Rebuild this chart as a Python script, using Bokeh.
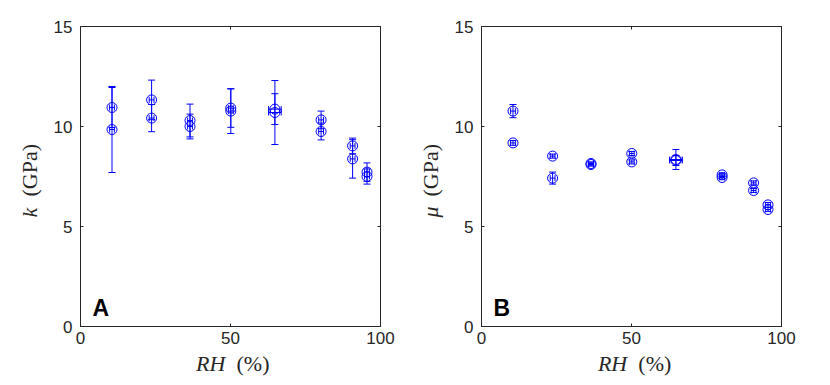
import numpy as np
from bokeh.plotting import figure
from bokeh.layouts import row, column
from bokeh.models import Range1d, LinearAxis, Label, FixedTicker
from bokeh.embed import file_html
from bokeh.resources import INLINE

# ---- data ----
rh = [10.5, 10.5, 23.7, 23.7, 36.5, 36.5, 50.1, 50.1, 64.8, 64.8, 80.2, 80.2, 90.7, 90.7, 95.5, 95.5]
rh_err = [0.8, 0.8, 0.8, 0.8, 0.8, 0.8, 0.8, 0.8, 2.1, 2.1, 0.8, 0.8, 0.8, 0.8, 0.8, 0.8]
k = [10.95, 9.85, 11.33, 10.42, 10.30, 10.00, 10.92, 10.77, 10.87, 10.70, 10.33, 9.75, 9.03, 8.38, 7.72, 7.50]
k_err = [1.00, 2.15, 0.99, 0.68, 0.82, 0.62, 0.96, 1.12, 0.77, 1.60, 0.44, 0.42, 0.39, 0.96, 0.46, 0.38]
mu = [10.77, 9.18, 8.52, 7.42, 8.15, 8.10, 8.65, 8.23, 8.35, 8.30, 7.58, 7.45, 7.18, 6.80, 6.08, 5.85]
mu_err = [0.33, 0.12, 0.10, 0.30, 0.08, 0.08, 0.10, 0.10, 0.50, 0.25, 0.08, 0.08, 0.10, 0.10, 0.12, 0.10]
x_ticks = [0, 50, 100]
y_ticks = [0, 5, 10, 15]
panel_letters = ["A", "B"]
y_symbols = ["k", "\u03bc"]
x_symbol = "RH"
unit_y = "(GPa)"
unit_x = "(%)"

AX = "#262626"
BLUE = "#0000FF"
SERIF = "Liberation Serif"
PLOT_H = 352
YL_W = 50


def tick_only_axis(ticks):
    return LinearAxis(ticker=FixedTicker(ticks=ticks), major_label_text_font_size="1px",
                      major_label_text_color=None, axis_line_color=None,
                      major_tick_in=3, major_tick_out=0, major_tick_line_color=AX,
                      minor_tick_line_color=None, major_label_standoff=0)


def make_panel(yv, ye, letter, border_left, border_right):
    p = figure(width=border_left + 300 + border_right, height=PLOT_H,
               output_backend="svg", toolbar_location=None, title=None,
               x_range=Range1d(0, 100), y_range=Range1d(0, 15),
               min_border_left=border_left, min_border_right=border_right,
               min_border_top=26, min_border_bottom=PLOT_H - 326)
    p.grid.visible = False
    p.outline_line_color = AX
    p.outline_line_width = 1
    p.xaxis.ticker = FixedTicker(ticks=x_ticks)
    p.yaxis.ticker = FixedTicker(ticks=y_ticks)
    for ax in p.axis:
        ax.axis_line_color = AX
        ax.major_tick_line_color = AX
        ax.major_tick_in = 3
        ax.major_tick_out = 0
        ax.minor_tick_line_color = None
        ax.major_label_text_font = "Liberation Sans"
        ax.major_label_text_font_size = "17px"
        ax.major_label_text_color = AX
    p.xaxis.major_label_standoff = 5
    p.yaxis.major_label_standoff = 8

    p.add_layout(tick_only_axis(y_ticks), "right")
    p.add_layout(tick_only_axis(x_ticks), "above")

    x = np.array(rh, dtype=float)
    xe = np.array(rh_err, dtype=float)
    y = np.array(yv, dtype=float)
    e = np.array(ye, dtype=float)

    # vertical error bars
    p.segment(x0=x, y0=y - e, x1=x, y1=y + e, line_color=BLUE, line_width=1)
    p.scatter(x=x, y=y + e, marker="dash", size=7, line_color=BLUE, line_width=1)
    p.scatter(x=x, y=y - e, marker="dash", size=7, line_color=BLUE, line_width=1)
    # horizontal error bars
    p.segment(x0=x - xe, y0=y, x1=x + xe, y1=y, line_color=BLUE, line_width=1)
    p.scatter(x=x - xe, y=y, marker="dash", angle=np.pi / 2, size=6, line_color=BLUE, line_width=1)
    p.scatter(x=x + xe, y=y, marker="dash", angle=np.pi / 2, size=6, line_color=BLUE, line_width=1)
    # markers
    p.scatter(x=x, y=y, marker="circle", size=10, fill_color=None, line_color=BLUE, line_width=1)

    # panel letter
    p.add_layout(Label(x=4, y=0.95, text=letter, text_font="Liberation Sans",
                       text_font_style="bold", text_font_size="23px", text_color="black",
                       text_baseline="alphabetic", text_align="left"))
    return p


def blank(w, h):
    f = figure(width=w, height=h, output_backend="svg", toolbar_location=None, title=None,
               x_range=Range1d(0, w), y_range=Range1d(0, h),
               x_axis_type=None, y_axis_type=None,
               min_border_left=0, min_border_right=0, min_border_top=0, min_border_bottom=0)
    f.grid.visible = False
    f.outline_line_color = None
    return f


def y_label_fig(sym, cx):
    # canvas YL_W x PLOT_H ; text rotated to read upward, centred on x = cx
    f = blank(YL_W, PLOT_H)
    f.add_layout(Label(x=cx, y=PLOT_H - 217, text=sym, angle=np.pi / 2, text_font=SERIF,
                       text_font_style="italic", text_font_size="22px", text_color=AX,
                       text_baseline="middle", text_align="left"))
    f.add_layout(Label(x=cx, y=PLOT_H - 196, text=unit_y, angle=np.pi / 2, text_font=SERIF,
                       text_font_size="22px", text_color=AX,
                       text_baseline="middle", text_align="left"))
    return f


def x_label_fig(w, frame_left):
    h = 30
    f = blank(w, h)
    base = h - (367 - PLOT_H) + 4
    f.add_layout(Label(x=frame_left + 139, y=base, text=x_symbol, text_font=SERIF,
                       text_font_style="italic", text_font_size="22px", text_color=AX,
                       text_baseline="alphabetic", text_align="right"))
    f.add_layout(Label(x=frame_left + 152, y=base, text=unit_x, text_font=SERIF,
                       text_font_size="22px", text_color=AX,
                       text_baseline="alphabetic", text_align="left"))
    return f


p1 = make_panel(k, k_err, panel_letters[0], 30, 20)
p2 = make_panel(mu, mu_err, panel_letters[1], 31, 19)
yl1 = y_label_fig(y_symbols[0], 29)
yl2 = y_label_fig(y_symbols[1], 30)
xl1 = x_label_fig(350, 30)
xl2 = x_label_fig(350, 31)

layout = row(yl1, column(p1, xl1), yl2, column(p2, xl2))

open("out.html", "w").write(file_html(layout, INLINE))
